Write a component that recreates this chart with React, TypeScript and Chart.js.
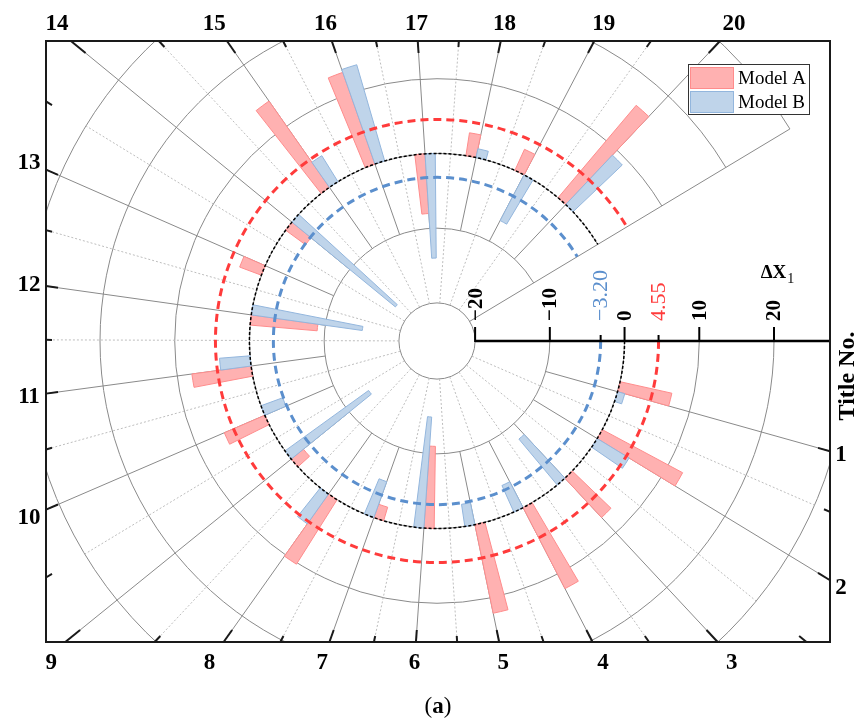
import React, { useEffect, useRef } from 'react';
import { Chart, registerables } from 'chart.js';

Chart.register(...registerables);

// ---------------- data ----------------
const titleNumbers = [1, 2, 3, 4, 5, 6, 7, 8, 9, 10, 11, 12, 13, 14, 15, 16, 17, 18, 19, 20];
const modelA = [7.1, 12.2, 7.2, 12.2, 12.1, -11.0, -1.9, 10.2, -2.1, 5.9, 8.0, -9.0, 3.1, -3.3, 14.1, 13.0, -8.0, 3.1, 3.1, 16.2];
const modelB = [1.0, 5.0, -8.0, -3.9, -3.0, -14.9, -5.1, 4.9, -13.8, -3.1, 4.1, -15.0, 0.0, -17.9, 4.1, 13.4, -14.0, 1.2, -6.9, 9.1];
const meanA = 4.55;
const meanB = -3.2;
const radialTicks = [-20, -10, 0, 10, 20];
const gridValues = [-20, -10, 0, 10, 20, 30];
const seriesLabels = ['Model A', 'Model B'];

// ---------------- styling / layout ----------------
const SWEEP_DEG = 329;
const SLOTS = 21;
const BAR_FRACTION = 0.2;
const RADIAL_MIN = -25.1;
const RADIAL_MAX = 20;
const FRAME = { left: 46, top: 41, right: 830, bottom: 642 };
const LABEL_MARGIN = { left: 17, top: 18, right: 11, bottom: 20 };
const LABEL_SHIFT_MAX = 14;
const SERIF = "'Liberation Serif', 'Times New Roman', serif";
const GRID_COLOR = '#8a8a8a';
const MINOR_COLOR = '#bdbdbd';
const BAR_FILL = ['#ffb1b1', '#bfd4ea'];
const BAR_STROKE = ['#ff8c8c', '#93b6dd'];
const MEAN_COLOR = ['#ff3b3b', '#5b8fcd'];

function fmt(v: number, digits = 0) {
  const s = Math.abs(v).toFixed(digits);
  return v < 0 ? '\u2212' + s : s;
}

function frameHit(cx: number, cy: number, a: number, box: { left: number; top: number; right: number; bottom: number }) {
  const dx = Math.cos(a);
  const dy = Math.sin(a);
  let best = Infinity;
  let edge = '';
  if (dx > 1e-9) { const t = (box.right - cx) / dx; if (t < best) { best = t; edge = 'right'; } }
  if (dx < -1e-9) { const t = (box.left - cx) / dx; if (t < best) { best = t; edge = 'left'; } }
  if (dy > 1e-9) { const t = (box.bottom - cy) / dy; if (t < best) { best = t; edge = 'bottom'; } }
  if (dy < -1e-9) { const t = (box.top - cy) / dy; if (t < best) { best = t; edge = 'top'; } }
  return { x: cx + dx * best, y: cy + dy * best, dx, dy, edge };
}

const polarPlugin = {
  id: 'polarBars',
  afterDraw(chart: any) {
    const ctx = chart.ctx as CanvasRenderingContext2D;
    const scale = chart.scales.r;
    const cx: number = scale.xCenter;
    const cy: number = scale.yCenter;
    const R = (v: number): number => scale.getDistanceFromCenterForValue(v);
    const rad = Math.PI / 180;
    const step = (SWEEP_DEG / SLOTS) * rad;
    const sweep = SWEEP_DEG * rad;
    const barW = step * BAR_FRACTION;
    const n = titleNumbers.length;

    const spoke = (r0: number, r1: number, a: number) => {
      ctx.beginPath();
      ctx.moveTo(cx + r0 * Math.cos(a), cy + r0 * Math.sin(a));
      ctx.lineTo(cx + r1 * Math.cos(a), cy + r1 * Math.sin(a));
      ctx.stroke();
    };

    ctx.save();
    ctx.beginPath();
    ctx.rect(FRAME.left, FRAME.top, FRAME.right - FRAME.left, FRAME.bottom - FRAME.top);
    ctx.clip();

    // grid arcs
    ctx.strokeStyle = GRID_COLOR;
    ctx.lineWidth = 1;
    ctx.setLineDash([]);
    gridValues.forEach((v, i) => {
      ctx.beginPath();
      if (i === 0) ctx.arc(cx, cy, R(v), 0, Math.PI * 2);
      else ctx.arc(cx, cy, R(v), 0, sweep);
      ctx.stroke();
    });
    const inner = gridValues[0];
    const second = gridValues[1];
    const outer = gridValues[gridValues.length - 1];
    for (let k = 1; k <= n; k++) spoke(R(second), 2000, k * step);
    spoke(R(inner), R(outer), sweep);
    ctx.strokeStyle = MINOR_COLOR;
    ctx.setLineDash([2, 2]);
    for (let j = 1; j < n; j++) spoke(R(inner), R(outer), (j + 0.5) * step);
    ctx.setLineDash([]);

    // bars
    const r0 = R(0);
    chart.data.datasets.forEach((ds: any, di: number) => {
      ds.data.forEach((v: number, i: number) => {
        if (Math.abs(v) < 0.05) return;
        const phi = (i + 1) * step;
        const a0 = di === 0 ? phi - barW : phi;
        const a1 = di === 0 ? phi : phi + barW;
        const r1 = R(v);
        ctx.beginPath();
        ctx.arc(cx, cy, r1, a0, a1, false);
        ctx.arc(cx, cy, r0, a1, a0, true);
        ctx.closePath();
        ctx.fillStyle = BAR_FILL[di];
        ctx.fill();
        ctx.strokeStyle = BAR_STROKE[di];
        ctx.lineWidth = 1;
        ctx.stroke();
      });
    });

    // zero circle
    ctx.strokeStyle = '#000';
    ctx.lineWidth = 1.5;
    ctx.setLineDash([3, 2]);
    ctx.beginPath();
    ctx.arc(cx, cy, R(0), 0, sweep);
    ctx.stroke();
    // mean circles
    [meanA, meanB].forEach((m, i) => {
      ctx.strokeStyle = MEAN_COLOR[i];
      ctx.lineWidth = 3;
      ctx.setLineDash([8, 5]);
      ctx.beginPath();
      ctx.arc(cx, cy, R(m), 0, sweep);
      ctx.stroke();
    });
    ctx.setLineDash([]);
    ctx.restore();

    // radial axis
    ctx.save();
    ctx.strokeStyle = '#000';
    ctx.lineWidth = 2.5;
    ctx.beginPath();
    ctx.moveTo(cx + R(inner), cy);
    ctx.lineTo(FRAME.right, cy);
    ctx.stroke();
    ctx.lineWidth = 2;
    radialTicks.forEach((v) => {
      const x = cx + R(v);
      ctx.beginPath();
      ctx.moveTo(x, cy + 1);
      ctx.lineTo(x, cy - 14);
      ctx.stroke();
      ctx.save();
      ctx.translate(x, cy - 20);
      ctx.rotate(-Math.PI / 2);
      ctx.font = `bold 21px ${SERIF}`;
      ctx.fillStyle = '#000';
      ctx.textAlign = 'left';
      ctx.textBaseline = 'middle';
      ctx.fillText(fmt(v), 0, 1);
      ctx.restore();
    });
    [meanA, meanB].forEach((m, i) => {
      const x = cx + R(m);
      ctx.strokeStyle = '#000';
      ctx.beginPath();
      ctx.moveTo(x, cy + 1);
      ctx.lineTo(x, cy - 6);
      ctx.stroke();
      ctx.save();
      ctx.translate(x, cy - 20);
      ctx.rotate(-Math.PI / 2);
      ctx.font = `22px ${SERIF}`;
      ctx.fillStyle = MEAN_COLOR[i];
      ctx.textAlign = 'left';
      ctx.textBaseline = 'middle';
      ctx.fillText(fmt(m, 2), 0, 1);
      ctx.restore();
    });
    // ΔX1 label
    {
      ctx.fillStyle = '#000';
      ctx.font = `bold 19px ${SERIF}`;
      const main = '\u0394X';
      const w1 = ctx.measureText(main).width;
      ctx.font = `14px ${SERIF}`;
      const w2 = ctx.measureText('1').width;
      const x0 = cx + R(radialTicks[radialTicks.length - 1]) + 3 - (w1 + w2) / 2;
      ctx.textAlign = 'left';
      ctx.textBaseline = 'alphabetic';
      ctx.font = `bold 19px ${SERIF}`;
      ctx.fillText(main, x0, cy - 63);
      ctx.font = `14px ${SERIF}`;
      ctx.fillText('1', x0 + w1 + 1, cy - 58);
    }
    ctx.restore();

    // frame, ticks, labels
    ctx.save();
    ctx.strokeStyle = '#1a1a1a';
    ctx.lineWidth = 2;
    ctx.strokeRect(FRAME.left, FRAME.top, FRAME.right - FRAME.left, FRAME.bottom - FRAME.top);
    const labelBox = {
      left: FRAME.left - LABEL_MARGIN.left,
      top: FRAME.top - LABEL_MARGIN.top,
      right: FRAME.right + LABEL_MARGIN.right,
      bottom: FRAME.bottom + LABEL_MARGIN.bottom,
    };
    const frameTick = (a: number, depth: number) => {
      const h = frameHit(cx, cy, a, FRAME);
      const perp = h.edge === 'top' || h.edge === 'bottom' ? Math.abs(h.dy) : Math.abs(h.dx);
      const len = depth / perp;
      ctx.beginPath();
      ctx.moveTo(h.x, h.y);
      ctx.lineTo(h.x - h.dx * len, h.y - h.dy * len);
      ctx.stroke();
    };
    for (let k = 1; k <= n; k++) frameTick(k * step, 12);
    for (let j = 1; j < n; j++) frameTick((j + 0.5) * step, 6);
    ctx.fillStyle = '#000';
    ctx.font = `bold 23px ${SERIF}`;
    ctx.textAlign = 'center';
    ctx.textBaseline = 'middle';
    const clampShift = (s: number) => Math.max(-LABEL_SHIFT_MAX, Math.min(LABEL_SHIFT_MAX, s));
    titleNumbers.forEach((t, i) => {
      const a = (i + 1) * step;
      const f = frameHit(cx, cy, a, FRAME);
      const h = frameHit(cx, cy, a, labelBox);
      let x = h.x;
      let y = h.y;
      if (h.edge === 'top' || h.edge === 'bottom') x = f.x + clampShift(h.x - f.x);
      else y = f.y + clampShift(h.y - f.y);
      ctx.fillText(String(t), x, y + 1);
    });
    // axis title
    ctx.save();
    ctx.translate(FRAME.right + 18, 376);
    ctx.rotate(-Math.PI / 2);
    ctx.font = `bold 24px ${SERIF}`;
    ctx.fillText('Title No.', 0, 0);
    ctx.restore();
    // caption (a)
    {
      ctx.textAlign = 'left';
      ctx.textBaseline = 'middle';
      ctx.font = `23px ${SERIF}`;
      const wp = ctx.measureText('(').width;
      const wq = ctx.measureText(')').width;
      ctx.font = `bold 23px ${SERIF}`;
      const wa = ctx.measureText('a').width;
      const x0 = cx + 1 - (wp + wa + wq) / 2;
      const y = 707;
      ctx.font = `23px ${SERIF}`;
      ctx.fillText('(', x0, y);
      ctx.font = `bold 23px ${SERIF}`;
      ctx.fillText('a', x0 + wp, y);
      ctx.font = `23px ${SERIF}`;
      ctx.fillText(')', x0 + wp + wa, y);
    }
    ctx.restore();

    // legend
    ctx.save();
    const lx = 688, ly = 64, lw = 121, lh = 50;
    ctx.fillStyle = '#fff';
    ctx.fillRect(lx, ly, lw, lh);
    ctx.strokeStyle = '#333';
    ctx.lineWidth = 1;
    ctx.strokeRect(lx + 0.5, ly + 0.5, lw, lh);
    chart.data.datasets.forEach((ds: any, di: number) => {
      const sy = ly + 3 + di * 24;
      ctx.fillStyle = BAR_FILL[di];
      ctx.fillRect(lx + 2.5, sy, 43, 21);
      ctx.strokeStyle = BAR_STROKE[di];
      ctx.strokeRect(lx + 2.5, sy + 0.5, 43, 21);
      ctx.fillStyle = '#000';
      ctx.font = `19px ${SERIF}`;
      ctx.textAlign = 'left';
      ctx.textBaseline = 'middle';
      ctx.fillText(ds.label, lx + 50, sy + 12);
    });
    ctx.restore();
  },
};

export default function App() {
  const ref = useRef<HTMLCanvasElement>(null);
  useEffect(() => {
    const canvas = ref.current;
    if (!canvas) return;
    const hidden = {
      borderWidth: 0,
      pointRadius: 0,
      borderColor: 'rgba(0,0,0,0)',
      backgroundColor: 'rgba(0,0,0,0)',
      fill: false,
    };
    const chart = new Chart(canvas, {
      type: 'radar',
      data: {
        labels: titleNumbers.map(String),
        datasets: [
          { label: seriesLabels[0], data: modelA, ...hidden },
          { label: seriesLabels[1], data: modelB, ...hidden },
        ],
      },
      options: {
        responsive: false,
        animation: false,
        devicePixelRatio: 1,
        events: [],
        layout: { padding: { left: 100, right: 88, top: 4, bottom: 49 } },
        plugins: { legend: { display: false }, tooltip: { enabled: false }, title: { display: false } },
        scales: {
          r: {
            min: RADIAL_MIN,
            max: RADIAL_MAX,
            grid: { display: false },
            angleLines: { display: false },
            pointLabels: { display: false },
            ticks: { display: false },
          },
        },
      } as any,
      plugins: [polarPlugin],
    });
    return () => chart.destroy();
  }, []);
  return (
    <div style={{ position: 'absolute', left: 0, top: 0, width: 862, height: 727, background: '#fff' }}>
      <canvas ref={ref} width={862} height={727} style={{ display: 'block' }} />
    </div>
  );
}
